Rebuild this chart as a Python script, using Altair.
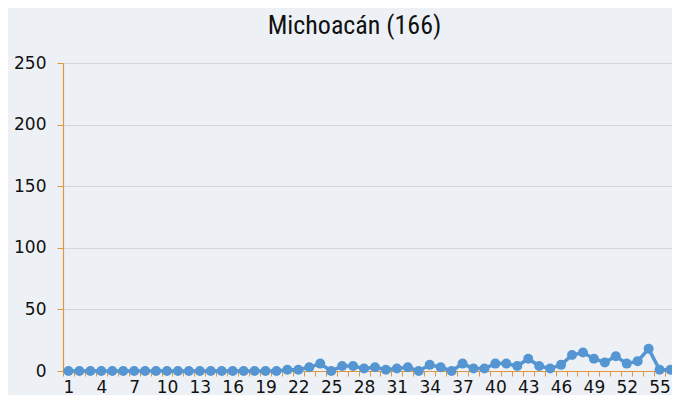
import altair as alt
import pandas as pd

weeks = list(range(1, 57))
cases = [0] * 20 + [1, 1, 3, 6, 0, 4, 4, 2, 3, 1,
                    2, 3, 0, 5, 3, 0, 6, 2, 2, 6,
                    6, 4, 10, 4, 2, 5, 13, 15, 10, 7,
                    12, 6, 8, 18, 1, 1]
y_ticks = [0, 50, 100, 150, 200, 250]
title_text = "Michoacán (166)"

df = pd.DataFrame({"week": weeks, "cases": cases})

ORANGE = "#e0953c"
BLUE = "#5596d2"
FONT = "DejaVu Sans"

base = alt.Chart(df).encode(
    x=alt.X(
        "week:O",
        scale=alt.Scale(type="band", paddingInner=0, paddingOuter=0, range=[0, 613]),
        axis=alt.Axis(
            title=None,
            labelAngle=0,
            labelExpr="datum.value % 3 == 1 ? datum.label : ''",
            labelOverlap=False,
            tickBand="extent",
            tickColor=ORANGE,
            tickSize=5,
            domainColor=ORANGE,
            domainWidth=1.2,
            grid=False,
            labelFont=FONT,
            labelFontSize=17,
            labelColor="#111111",
            labelPadding=3,
        ),
    ),
    y=alt.Y(
        "cases:Q",
        scale=alt.Scale(domain=[0, 250]),
        axis=alt.Axis(
            title=None,
            values=y_ticks,
            grid=True,
            gridColor="#d4d6da",
            gridWidth=1.2,
            domainColor=ORANGE,
            domainWidth=1.2,
            tickColor=ORANGE,
            tickSize=6,
            labelFont=FONT,
            labelFontSize=17,
            labelColor="#111111",
            labelPadding=11,
        ),
    ),
)

line = base.mark_line(color=BLUE, strokeWidth=3.5)
pts = base.mark_circle(color=BLUE, size=100, opacity=1)

chart = (
    (line + pts)
    .properties(
        width=609,
        height=308,
        title=alt.Title(
            title_text,
            font="Roboto Condensed, Roboto, sans-serif",
            fontSize=26,
            fontWeight="normal",
            color="#111111",
            anchor="middle",
            dx=-13,
            offset=15,
        ),
        background="#edf1f6",
        padding={"left": 55, "top": 55, "right": 0, "bottom": 24},
        autosize=alt.AutoSizeParams(type="none"),
    )
    .configure_view(stroke=None)
)

chart.save("out.html", embed_options={"renderer": "svg", "actions": False})
